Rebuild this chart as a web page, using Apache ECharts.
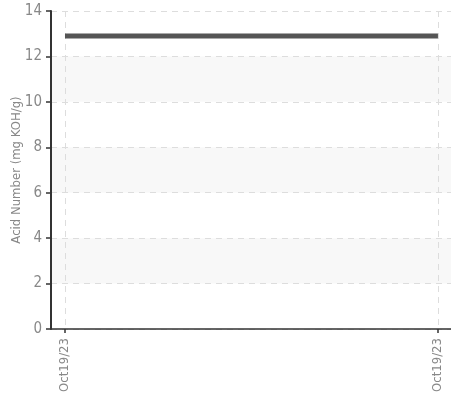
<!DOCTYPE html>
<html><head><meta charset="utf-8">
<script src="https://cdn.jsdelivr.net/npm/echarts@6/dist/echarts.min.js"></script>
<style>html,body{margin:0;padding:0;background:#fff}#c{width:451px;height:407px}</style>
</head><body><div id="c"></div>
<script>
const categories = ['Oct19/23', 'Oct19/23'];
const acidValues = [12.9, 12.9];
const yTicks = [0, 2, 4, 6, 8, 10, 12, 14];

const chart = echarts.init(document.getElementById('c'), null, {renderer: 'canvas'});
const font = "'DejaVu Sans Condensed', 'Liberation Sans Narrow', sans-serif";
const idx = categories.map((_, i) => i);
chart.setOption({
  animation: false,
  grid: {left: 51, right: 0, top: 11, bottom: 78, containLabel: false, outerBoundsMode: 'none'},
  xAxis: {
    type: 'value', min: -0.0375, max: 1.035,
    axisLine: {show: true, onZero: false, lineStyle: {color: '#333', width: 1.5}},
    axisTick: {show: true, customValues: idx, length: 4, inside: false, lineStyle: {color: '#333', width: 1.5}},
    axisLabel: {customValues: idx, rotate: 90, margin: 9, color: '#888', fontSize: 13, fontFamily: font,
      formatter: v => categories[Math.round(v)] || ''},
    splitLine: {show: true, lineStyle: {color: '#ddd', type: [6, 5], width: 1}}
  },
  yAxis: {
    type: 'value', min: yTicks[0], max: yTicks[yTicks.length - 1], interval: 2,
    name: 'Acid Number (mg KOH/g)', nameLocation: 'middle', nameGap: 28, nameMoveOverlap: false,
    nameTextStyle: {color: '#888', fontSize: 13, fontFamily: font},
    axisLine: {show: true, onZero: false, lineStyle: {color: '#333', width: 2}},
    axisTick: {show: true, length: 5, lineStyle: {color: '#333', width: 1.5}},
    axisLabel: {color: '#888', fontSize: 15, fontFamily: font, margin: 9},
    splitLine: {show: true, lineStyle: {color: '#ddd', type: [6, 5], width: 1}},
    splitArea: {show: true, areaStyle: {color: ['rgba(0,0,0,0)', '#f8f8f8']}}
  },
  series: [{
    type: 'line',
    data: acidValues.map((v, i) => [i, v]),
    symbol: 'none',
    lineStyle: {color: '#555', width: 5}
  }]
});
</script></body></html>
